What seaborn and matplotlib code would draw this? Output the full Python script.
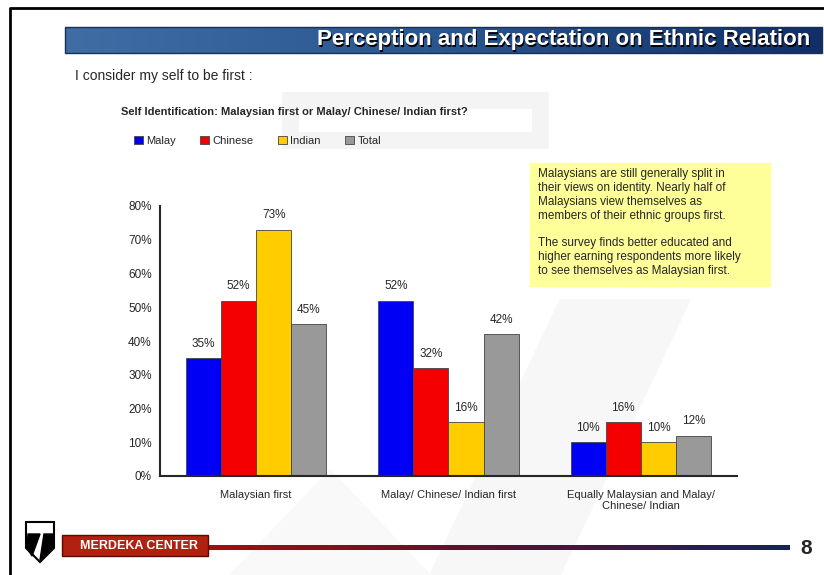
import numpy as np
import pandas as pd
import matplotlib.pyplot as plt
import matplotlib.patches as mpatches
from matplotlib.colors import LinearSegmentedColormap
import seaborn as sns

# data
categories = ["Malaysian first", "Malay/ Chinese/ Indian first",
              "Equally Malaysian and Malay/\nChinese/ Indian"]
groups = ["Malay", "Chinese", "Indian", "Total"]
malay = [35, 52, 10]
chinese = [52, 32, 16]
indian = [73, 16, 10]
total = [45, 42, 12]
yticks = [0, 10, 20, 30, 40, 50, 60, 70, 80]

colors = ["#0000f5", "#f50000", "#ffcc00", "#999999"]

rows = []
for g, vals in zip(groups, [malay, chinese, indian, total]):
    for c, v in zip(categories, vals):
        rows.append({"category": c, "group": g, "value": v})
df = pd.DataFrame(rows)

sns.set_style("white")
plt.rcParams["font.family"] = ["Liberation Sans", "DejaVu Sans"]

W, H = 824, 575
fig = plt.figure(figsize=(W / 100, H / 100), dpi=100)

# background decorations in pixel coords
bg = fig.add_axes([0, 0, 1, 1])
bg.set_xlim(0, W)
bg.set_ylim(H, 0)
bg.axis("off")

# faint watermark
bg.add_patch(mpatches.Polygon([[430, 575], [560, 300], [690, 300], [560, 575]],
                              closed=True, color="#f7f7f7", zorder=0))
bg.add_patch(mpatches.Polygon([[230, 575], [330, 470], [430, 575]],
                              closed=True, color="#f9f9f9", zorder=0))
bg.add_patch(mpatches.Rectangle((290, 100), 250, 40, fill=False, ec="#f4f4f4", lw=12, zorder=0))

# slide border
bg.plot([10, 10, 824], [575, 8, 8], color="black", lw=2, zorder=1)

# title banner with gradient
grad = np.linspace(0, 1, 256).reshape(1, -1)
bcmap = LinearSegmentedColormap.from_list("b", ["#3f6da4", "#2a5690", "#112f66"])
bg.imshow(grad, cmap=bcmap, extent=[65, 822, 53, 27], aspect="auto", zorder=2)
bg.add_patch(mpatches.Rectangle((65, 27), 757, 26, fill=False, ec="#1a2f55", lw=1, zorder=3))
bg.text(811.5, 41, "Perception and Expectation on Ethnic Relation", color="black",
        ha="right", va="center", fontsize=16, fontweight="bold", zorder=3)
bg.text(810, 40, "Perception and Expectation on Ethnic Relation", color="white",
        ha="right", va="center", fontsize=16, fontweight="bold", zorder=4)

bg.text(75, 76, "I consider my self to be first :", fontsize=10, va="center")
bg.text(121, 112, "Self Identification: Malaysian first or Malay/ Chinese/ Indian first?",
        fontsize=8, fontweight="bold", va="center")

# note box
bg.add_patch(mpatches.Rectangle((530, 163), 240, 123, color="#ffff99", zorder=2))
note1 = ("Malaysians are still generally split in\ntheir views on identity. Nearly half of\n"
         "Malaysians view themselves as\nmembers of their ethnic groups first.")
note2 = ("The survey finds better educated and\nhigher earning respondents more likely\n"
         "to see themselves as Malaysian first.")
bg.text(538, 168, note1, fontsize=8.5, va="top", linespacing=1.22, zorder=3)
bg.text(538, 237, note2, fontsize=8.5, va="top", linespacing=1.22, zorder=3)

# footer
footer_cmap = LinearSegmentedColormap.from_list("f", ["#a01010", "#5a1030", "#14265a"])
bg.imshow(grad, cmap=footer_cmap, extent=[205, 790, 550, 545], aspect="auto", zorder=2)
bg.add_patch(mpatches.Rectangle((62, 535), 146, 21, color="#b22010", ec="#5a0a00", lw=1, zorder=3))
bg.text(80, 546, "MERDEKA CENTER", color="white", fontsize=9, fontweight="bold",
        va="center", zorder=4)
bg.text(806, 548, "8", fontsize=15, fontweight="bold", va="center", ha="center")
# logo shield
bg.add_patch(mpatches.Polygon([[26, 522], [54, 522], [54, 548], [40, 562], [26, 548]],
                              closed=True, fc="white", ec="black", lw=1.5, zorder=3))
bg.add_patch(mpatches.Polygon([[28, 534], [40, 534], [32, 556], [27, 548]],
                              closed=True, color="black", zorder=4))
bg.add_patch(mpatches.Polygon([[44, 534], [53, 534], [53, 547], [40, 560]],
                              closed=True, color="black", zorder=4))

# chart
ax = fig.add_axes([160 / W, 1 - 476 / H, 577 / W, 270 / H])
ax.patch.set_alpha(0)
sns.barplot(data=df, x="category", y="value", hue="group", palette=colors,
            width=0.73, saturation=1, edgecolor="#444444", linewidth=0.6, ax=ax)

for cont in ax.containers:
    ax.bar_label(cont, fmt="%d%%", padding=6, fontsize=8.5)

ax.set_xlim(-0.5, 2.5)
ax.set_ylim(0, 80)
ax.set_yticks(yticks)
ax.set_yticklabels([f"{t}%" for t in yticks], fontsize=8.5)
ax.set_xticks(range(3))
ax.set_xticklabels(categories, fontsize=8)
ax.set_xticks([0.5, 1.5, 2.5], minor=True)
ax.tick_params(axis="x", which="major", length=0, pad=10)
ax.tick_params(axis="x", which="minor", length=4, width=1.2, direction="out")
ax.tick_params(axis="y", length=4, width=1.2, direction="out", pad=2)
ax.set_xlabel("")
ax.set_ylabel("")
sns.despine(ax=ax)
ax.spines["left"].set_linewidth(1.5)
ax.spines["bottom"].set_linewidth(1.5)

sns.move_legend(ax, "center left", bbox_to_anchor=(124 / W, 1 - 141 / H),
                bbox_transform=fig.transFigure, ncol=4, frameon=False, title=None,
                fontsize=8, handlelength=0.8, handleheight=0.8, handletextpad=0.3,
                columnspacing=2.2)

fig.savefig("out.png", dpi=100)
